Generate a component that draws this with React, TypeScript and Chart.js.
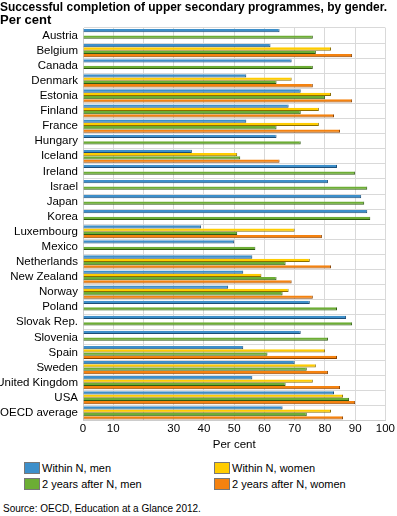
import React, { useEffect, useRef } from "react";
import { Chart, registerables } from "chart.js";

Chart.register(...registerables);

const categories = [
  "Austria", "Belgium", "Canada", "Denmark", "Estonia", "Finland", "France", "Hungary",
  "Iceland", "Ireland", "Israel", "Japan", "Korea", "Luxembourg", "Mexico", "Netherlands",
  "New Zealand", "Norway", "Poland", "Slovak Rep.", "Slovenia", "Spain", "Sweden",
  "United Kingdom", "USA", "OECD average",
];
const withinMen = [65, 62, 69, 54, 72, 68, 54, 64, 36, 84, 81, 92, 94, 39, 50, 56, 53, 48, 75, 87, 72, 53, 70, 56, 83, 66];
const withinWomen = [null, 82, null, 69, 82, 78, 78, null, 51, null, null, null, null, 70, null, 75, 59, 68, null, null, null, 80, 77, 76, 86, 82];
const afterMen = [76, 77, 76, 64, 80, 72, 64, 72, 52, 90, 94, 93, 95, 51, 57, 67, 64, 66, 84, 89, 81, 61, 74, 67, 88, 74];
const afterWomen = [null, 89, null, 76, 89, 83, 85, null, 65, null, null, null, null, 79, null, 82, 69, 76, null, null, null, 84, 81, 85, 90, 86];
const seriesNames = ["Within N, men", "Within N, women", "2 years after N, men", "2 years after N, women"];
const hiddenTickValues = [20];

const FONT = "'Liberation Sans', Arial, sans-serif";
const fills = ["#3d8fca", "#ffcc00", "#6cae34", "#f5820f"];
const borders = ["#1d4e78", "#8a6d00", "#2f5a12", "#8a4200"];

export default function App() {
  const ref = useRef<HTMLCanvasElement | null>(null);

  useEffect(() => {
    if (!ref.current) return;
    const all = [withinMen, withinWomen, afterMen, afterWomen];
    const chart = new Chart(ref.current, {
      type: "bar",
      data: {
        labels: categories,
        datasets: all.map((d, i) => ({
          label: seriesNames[i],
          data: d,
          backgroundColor: fills[i],
          borderColor: borders[i],
          borderWidth: { top: 0, left: 0, right: 1, bottom: 1 },
          borderSkipped: false,
          categoryPercentage: 0.87,
          barPercentage: 1.0,
        })),
      },
      options: {
        indexAxis: "y",
        animation: false,
        responsive: false,
        maintainAspectRatio: false,
        layout: { padding: { left: 0, right: 10, top: 0, bottom: 0 } },
        plugins: {
          legend: { display: false },
          tooltip: { enabled: false },
          title: {
            display: true,
            text: ["Successful completion of upper secondary programmes, by gender.", "Per cent"],
            align: "start",
            color: "#000",
            font: { family: FONT, size: 13, weight: "bold", lineHeight: 1.0 },
            padding: { top: 1, bottom: 1 },
          },
        },
        scales: {
          x: {
            min: 0,
            max: 100,
            ticks: {
              stepSize: 10,
              color: "#000",
              padding: 2,
              font: { family: FONT, size: 11.5 },
              callback: (v: any) => (hiddenTickValues.includes(Number(v)) ? "" : String(v)),
            },
            grid: { color: "#d9d9d9", drawTicks: false },
            border: { color: "#cccccc" },
            title: {
              display: true,
              text: "Per cent",
              color: "#000",
              font: { family: FONT, size: 11.5 },
              padding: { top: 0, bottom: 0 },
            },
          },
          y: {
            ticks: {
              color: "#000",
              padding: 5,
              font: { family: FONT, size: 11.5 },
              autoSkip: false,
            },
            grid: { color: "#d9d9d9", drawTicks: false },
            border: { color: "#cccccc" },
            afterFit: (scale: any) => {
              scale.width = 83;
            },
          },
        },
      },
    });
    return () => chart.destroy();
  }, []);

  const legendItem = (i: number, left: number, top: number) => (
    <div key={i} style={{ position: "absolute", left, top, display: "flex", alignItems: "center", height: 12 }}>
      <span
        style={{
          display: "inline-block",
          width: 14,
          height: 10,
          background: fills[i],
          border: "1px solid #777",
          marginRight: 2,
        }}
      />
      <span style={{ fontFamily: FONT, fontSize: 11, color: "#000", whiteSpace: "nowrap" }}>{seriesNames[i]}</span>
    </div>
  );

  return (
    <div style={{ position: "absolute", left: 0, top: 0, width: 397, height: 516, background: "#fff" }}>
      <canvas ref={ref} width={397} height={452} style={{ position: "absolute", left: 0, top: 0 }} />
      {legendItem(0, 24, 462)}
      {legendItem(1, 214, 462)}
      {legendItem(2, 24, 478)}
      {legendItem(3, 214, 478)}
      <div
        style={{
          position: "absolute",
          left: 3,
          top: 503,
          fontFamily: FONT,
          fontSize: 10,
          color: "#000",
          whiteSpace: "nowrap",
        }}
      >
        Source: OECD, Education at a Glance 2012.
      </div>
    </div>
  );
}
